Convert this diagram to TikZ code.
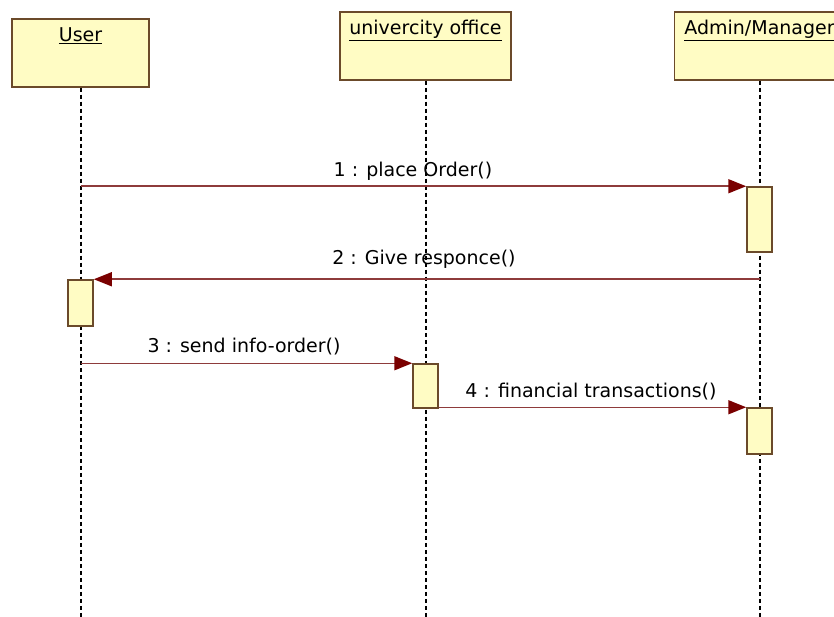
\documentclass[tikz,border=0pt]{standalone}
\usepackage{fontspec}
\setmainfont{DejaVu Sans}
\usetikzlibrary{arrows.meta}
\definecolor{boxfill}{HTML}{FFFCC4}
\definecolor{boxline}{HTML}{6B4A2A}
\definecolor{msgline}{HTML}{8E3B3B}
\definecolor{msgtip}{HTML}{7A0000}
\tikzset{
  obj/.style={draw=boxline, fill=boxfill, line width=1.5pt, minimum height=68pt, inner sep=0pt},
  act/.style={draw=boxline, fill=boxfill, line width=1.5pt, minimum width=25pt, inner sep=0pt},
  life/.style={dash pattern=on 4pt off 3pt, line width=2pt},
  msg/.style={draw=msgline, line width=1.5pt, -{Triangle[length=18pt,width=14pt,color=msgtip,fill=msgtip]}},
  lbl/.style={font=\fontsize{19}{21}\selectfont, inner sep=0pt},
}
\begin{document}
\begin{tikzpicture}[x=1pt,y=-1pt]
  \path[use as bounding box, clip] (0,0) rectangle (834,617);
  % objects
  \node[obj, minimum width=137pt] (user) at (80.5,53) {};
  \node[obj, minimum width=171pt] (office) at (425.5,46) {};
  \node[obj, minimum width=170pt] (admin) at (759.5,46) {};
  \node[lbl, anchor=base] (usertxt) at (80.5,42) {\underline{User}};
  \node[lbl, anchor=base] (officetxt) at (425.5,35) {\underline{univercity office}};
  \node[lbl, anchor=base] (admintxt) at (759.5,35) {\underline{Admin/Manager}};
  % lifelines
  \draw[life] (user.south) -- (user.south |- 0,617);
  \draw[life] (office.south) -- (office.south |- 0,617);
  \draw[life] (admin.south) -- (admin.south |- 0,617);
  % activations
  \node[act, minimum height=65pt] (a1) at (759.5,219.5) {};
  \node[act, minimum height=46pt] (a2) at (80.5,303) {};
  \node[act, minimum height=44pt] (a3) at (425.5,386) {};
  \node[act, minimum height=46pt] (a4) at (759.5,431) {};
  % messages
  \begin{scope}[msg]
    \draw (user.south |- a1.north) -- (a1.north west);
    \draw (admin.south |- a2.north) -- (a2.north east);
    \draw (user.south |- a3.north) -- (a3.north west);
    \draw (a3.east |- a4.north) -- (a4.north west);
  \end{scope}
  \node[lbl] (l1) at (413,171) {1 : place Order()};
  \node[lbl] (l2) at (424,259) {2 : Give responce()};
  \node[lbl] (l3) at (244,347) {3 : send info-order()};
  \node[lbl] (l4) at (591,392) {4 : financial transactions()};
\end{tikzpicture}
\end{document}
